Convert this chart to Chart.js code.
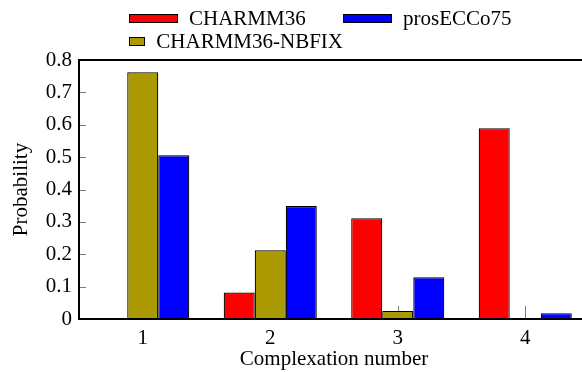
<!DOCTYPE html>
<html>
<head>
<meta charset="utf-8">
<script src="https://cdn.jsdelivr.net/npm/chart.js@4"></script>
<style>
  html, body { margin: 0; padding: 0; overflow: hidden; background: #fff; }
  #wrap { position: relative; width: 590px; height: 372px; }
  #legend { position: absolute; left: 129px; top: 7px; display: grid;
    grid-template-rows: 23px 23px; grid-auto-flow: column; grid-template-columns: 214px auto;
    font-family: 'Liberation Serif', 'Times New Roman', serif; font-size: 21px; color: #000; }
  #legend .item { display: flex; align-items: center; white-space: nowrap; }
  #legend .box { width: 47px; height: 7px; border: 1px solid #000; margin-right: 11px; }
</style>
</head>
<body>
<div id="wrap">
  <canvas id="chart" width="590" height="372"></canvas>
  <div id="legend"></div>
</div>
<script>
const categories = ['1', '2', '3', '4'];
const seriesNames = ['CHARMM36', 'CHARMM36-NBFIX', 'prosECCo75'];
const charmm36 = [0.002, 0.082, 0.311, 0.589];
const nbfix = [0.762, 0.212, 0.025, 0.001];
const prosecco = [0.506, 0.349, 0.129, 0.018];
const colors = ['#ff0000', '#aa9900', '#0000ff'];

const fontFamily = "'Liberation Serif', 'Times New Roman', serif";

// inward grey ticks, then a black frame (left, top, bottom) over the bars
const frame = {
    id: 'frame',
    beforeDatasetsDraw(chart) {
        const { ctx, chartArea: a, scales: { x, y } } = chart;
        ctx.save();
        ctx.fillStyle = '#7f7f7f';
        x.ticks.forEach((t, i) => {
            const px = Math.round(x.getPixelForTick(i));
            ctx.fillRect(px, a.bottom - 13, 1, 13);
        });
        y.ticks.forEach((t, i) => {
            const py = Math.round(y.getPixelForTick(i));
            ctx.fillRect(a.left, py, 7, 1);
        });
        ctx.restore();
    },
    afterDraw(chart) {
        const { ctx, chartArea: a } = chart;
        const l = Math.round(a.left), t = Math.round(a.top), b = Math.round(a.bottom);
        const w = chart.width - l;
        ctx.save();
        ctx.fillStyle = '#000';
        ctx.fillRect(l - 1, t - 1, w + 1, 2);
        ctx.fillRect(l - 1, b - 1, w + 1, 2);
        ctx.fillRect(l - 1, t - 1, 2, b - t + 2);
        ctx.restore();
    }
};

const data = {
    labels: categories,
    datasets: [charmm36, nbfix, prosecco].map((vals, i) => ({
        label: seriesNames[i],
        data: vals,
        backgroundColor: colors[i],
        borderColor: '#000',
        borderWidth: 1.2,
        categoryPercentage: 0.73,
        barPercentage: 1
    }))
};

const config = {
    type: 'bar',
    data: data,
    options: {
        responsive: false,
        animation: false,
        layout: { padding: { top: 60, left: 0, right: 1, bottom: 0 } },
        plugins: {
            legend: { display: false },
            tooltip: { enabled: false }
        },
        scales: {
            x: {
                grid: { display: false, drawTicks: false },
                border: { display: false },
                ticks: { color: '#000', padding: 7, font: { family: fontFamily, size: 21 } },
                title: { display: true, text: 'Complexation number', color: '#000', padding: { top: 0, bottom: 0 },
                    font: { family: fontFamily, size: 21 } },
                afterFit: s => { s.height = 53; }
            },
            y: {
                min: 0,
                max: 0.8,
                grid: { display: false, drawTicks: false },
                border: { display: false },
                ticks: { stepSize: 0.1, color: '#000', padding: 7, font: { family: fontFamily, size: 21 } },
                title: { display: true, text: 'Probability', color: '#000', padding: { top: 9, bottom: 0 },
                    font: { family: fontFamily, size: 21 } },
                afterFit: s => { s.width = 79; }
            }
        }
    },
    plugins: [frame]
};

const chart = new Chart(document.getElementById('chart'), config);

// legend in two columns, filled column by column
const legendEl = document.getElementById('legend');
chart.data.datasets.forEach(ds => {
    const item = document.createElement('div');
    item.className = 'item';
    item.innerHTML = '<span class="box" style="background:' + ds.backgroundColor + '"></span>' + ds.label;
    legendEl.appendChild(item);
});
</script>
</body>
</html>
